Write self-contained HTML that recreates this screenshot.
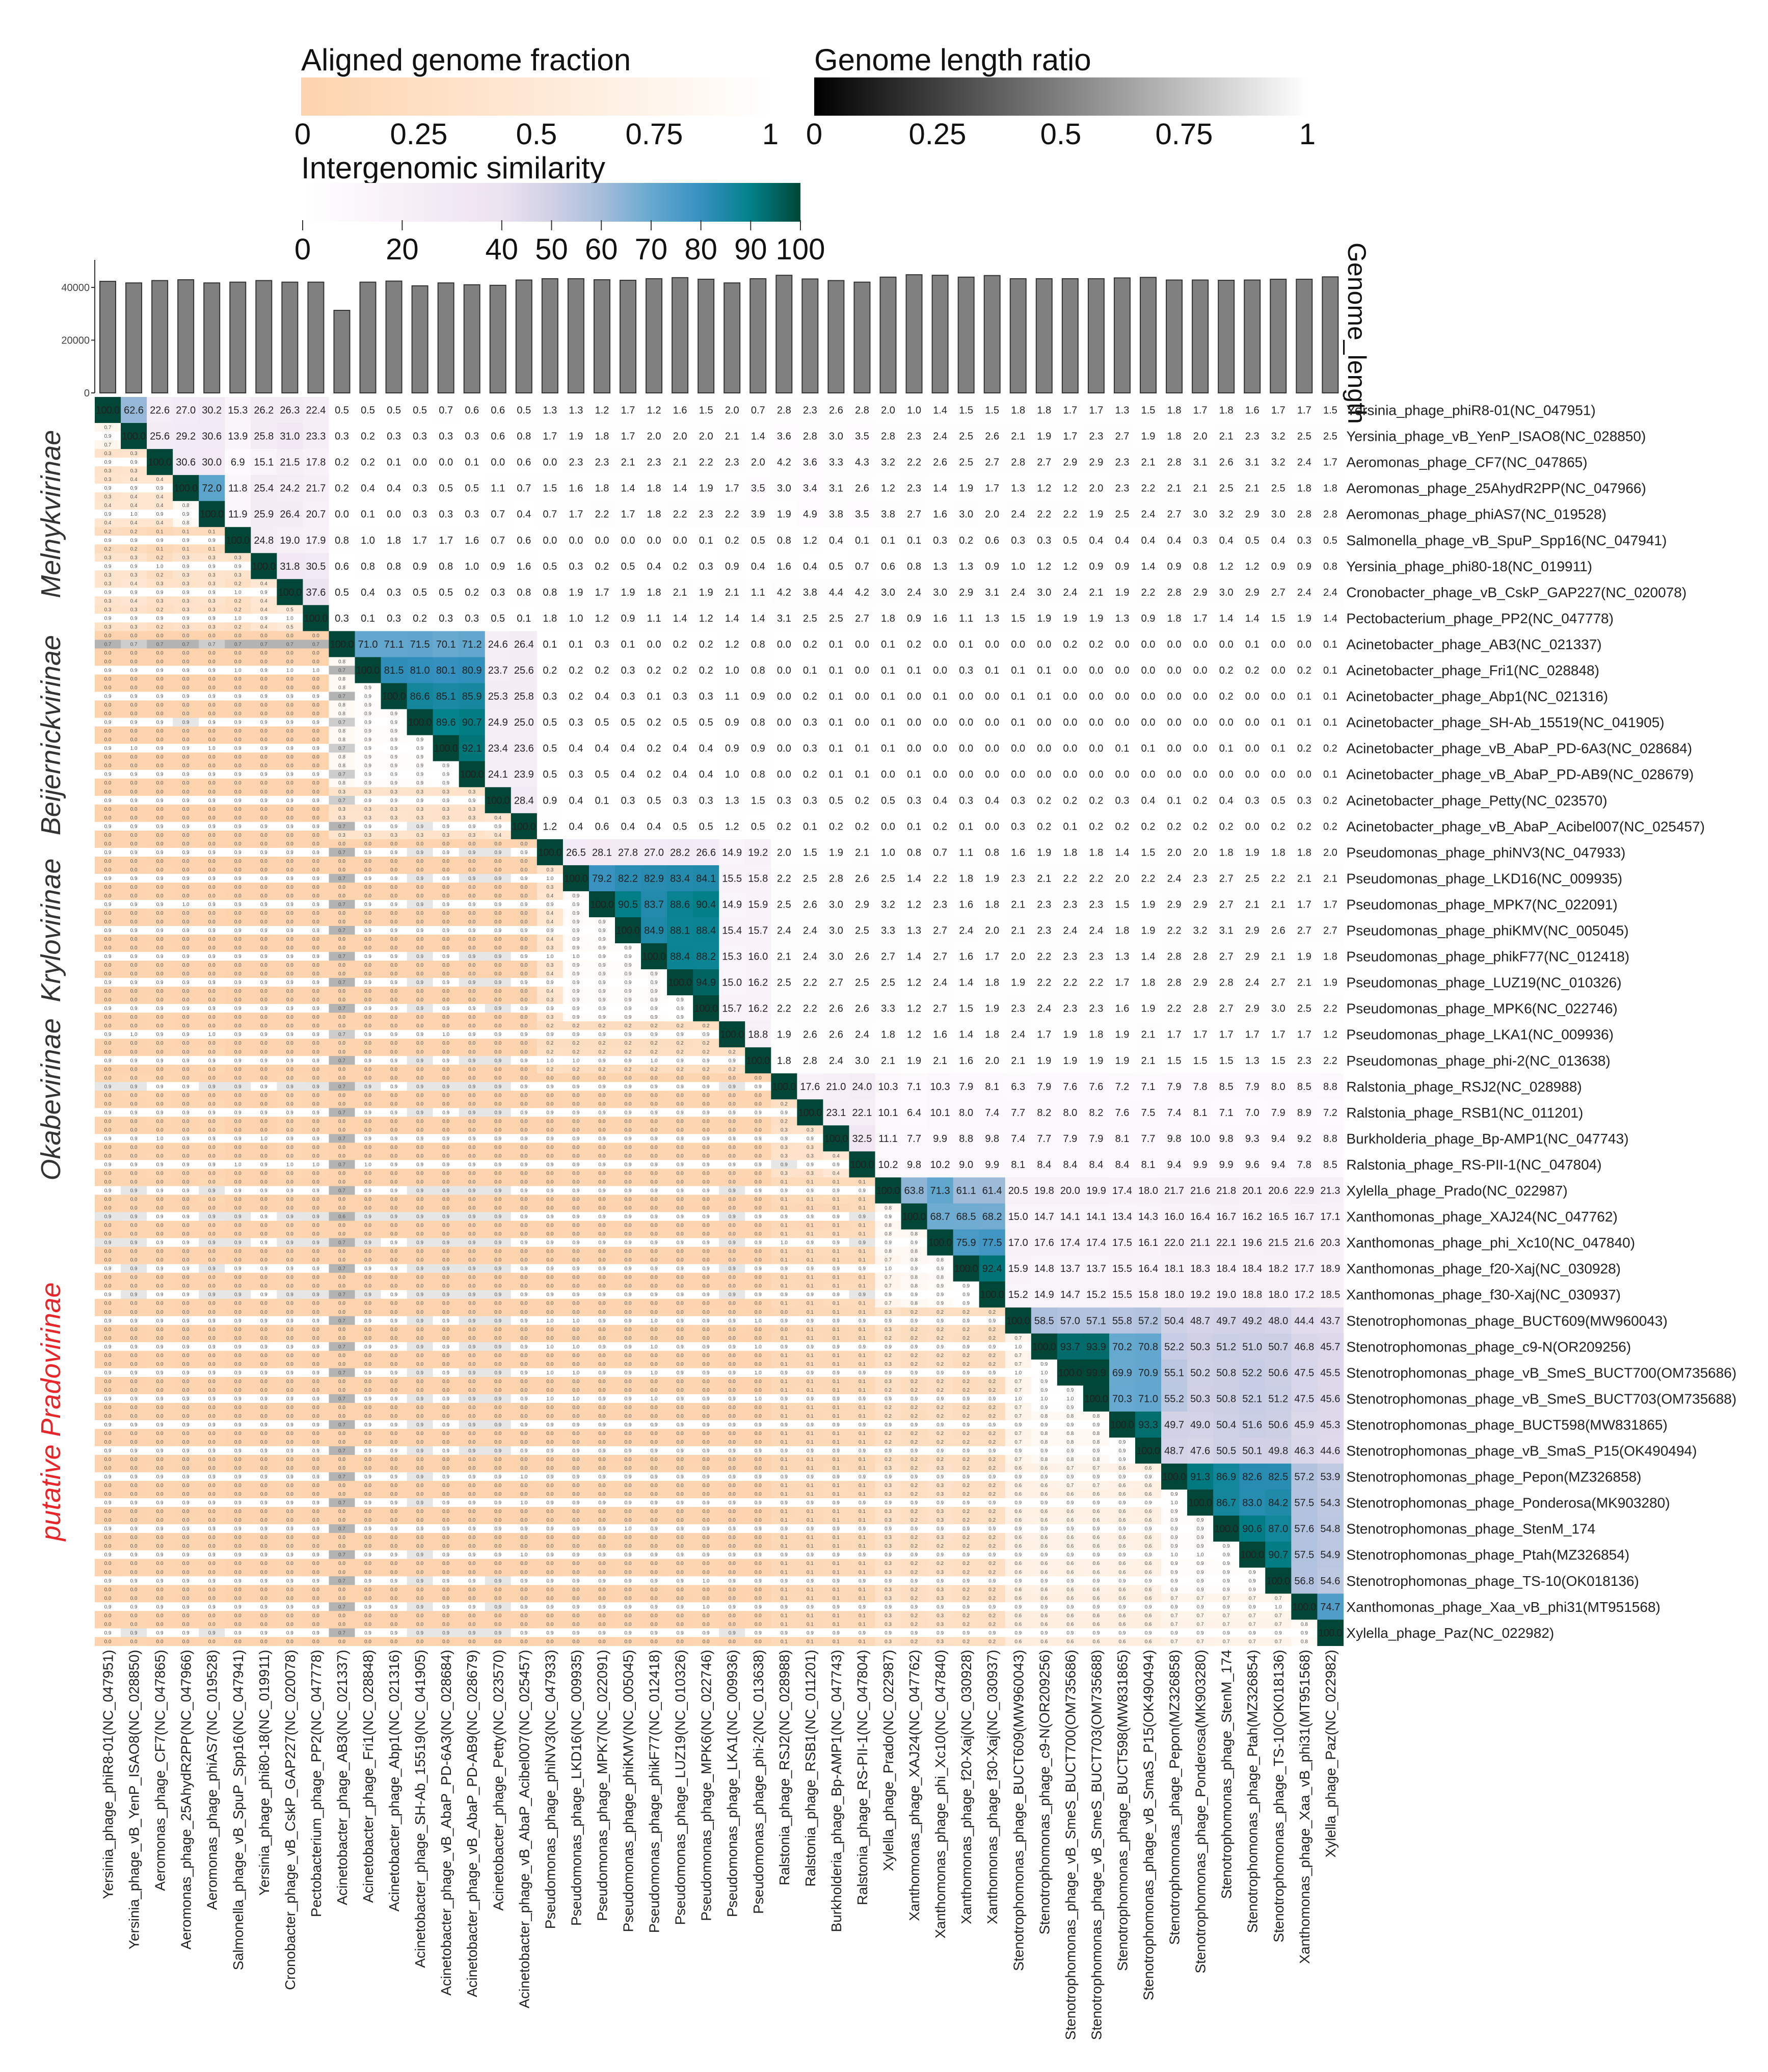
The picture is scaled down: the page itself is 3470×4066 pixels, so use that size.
<!DOCTYPE html>
<html><head><meta charset="utf-8"><title>Phage intergenomic similarity heatmap</title>
<style>
html,body{margin:0;padding:0;background:#fff;}
svg{display:block;font-family:"Liberation Sans",Arial,sans-serif;}
</style></head>
<body>
<svg id="chart" width="3470" height="4066" viewBox="0 0 3470 4066" xmlns="http://www.w3.org/2000/svg">
<defs>
<linearGradient id="gAF" x1="0" x2="1" y1="0" y2="0"><stop offset="0" stop-color="#fdd3ad"/><stop offset="1" stop-color="#ffffff"/></linearGradient>
<linearGradient id="gGL" x1="0" x2="1" y1="0" y2="0"><stop offset="0" stop-color="#000"/><stop offset="1" stop-color="#fff"/></linearGradient>
<linearGradient id="gIS" x1="0" x2="1" y1="0" y2="0">
<stop offset="0" stop-color="#ffffff"/><stop offset="0.2" stop-color="#f7f0f7"/><stop offset="0.4" stop-color="#ece2f0"/><stop offset="0.5" stop-color="#d0d1e6"/><stop offset="0.6" stop-color="#a6bddb"/><stop offset="0.7" stop-color="#67a9cf"/><stop offset="0.8" stop-color="#3690c0"/><stop offset="0.9" stop-color="#02818a"/><stop offset="1" stop-color="#014636"/></linearGradient>
</defs>
<g>
<text x="591" y="138" font-size="60" fill="#111">Aligned genome fraction</text>
<rect x="591" y="152" width="924" height="75" fill="url(#gAF)"/>
<g font-size="58" fill="#111" text-anchor="middle">
<text x="594" y="283">0</text><text x="822" y="283">0.25</text><text x="1053" y="283">0.5</text><text x="1284" y="283">0.75</text><text x="1512" y="283">1</text></g>
</g>
<g>
<text x="1598" y="138" font-size="60" fill="#111">Genome length ratio</text>
<rect x="1598" y="152" width="968" height="75" fill="url(#gGL)"/>
<g font-size="58" fill="#111" text-anchor="middle">
<text x="1598" y="283">0</text><text x="1840" y="283">0.25</text><text x="2082" y="283">0.5</text><text x="2324" y="283">0.75</text><text x="2566" y="283">1</text></g>
</g>
<g>
<text x="591" y="350" font-size="60" fill="#111">Intergenomic similarity</text>
<rect x="594" y="359" width="977" height="76" fill="url(#gIS)"/>
<g id="isTicks" font-size="58" fill="#111" text-anchor="middle"></g>
</g>
<g id="bars"></g>
<text x="0" y="0" font-size="50" fill="#111" transform="translate(2646,476) rotate(90)">Genome_length</text>
<g id="heat"></g>
<g id="rowLabels" font-size="28" fill="#222"></g>
<g id="colLabels" font-size="28" fill="#222"></g>
<g id="groups" font-size="54" font-style="italic" text-anchor="middle"></g>
</svg>
<script>
const phages = ["Yersinia_phage_phiR8-01(NC_047951)","Yersinia_phage_vB_YenP_ISAO8(NC_028850)","Aeromonas_phage_CF7(NC_047865)","Aeromonas_phage_25AhydR2PP(NC_047966)","Aeromonas_phage_phiAS7(NC_019528)","Salmonella_phage_vB_SpuP_Spp16(NC_047941)","Yersinia_phage_phi80-18(NC_019911)","Cronobacter_phage_vB_CskP_GAP227(NC_020078)","Pectobacterium_phage_PP2(NC_047778)","Acinetobacter_phage_AB3(NC_021337)","Acinetobacter_phage_Fri1(NC_028848)","Acinetobacter_phage_Abp1(NC_021316)","Acinetobacter_phage_SH-Ab_15519(NC_041905)","Acinetobacter_phage_vB_AbaP_PD-6A3(NC_028684)","Acinetobacter_phage_vB_AbaP_PD-AB9(NC_028679)","Acinetobacter_phage_Petty(NC_023570)","Acinetobacter_phage_vB_AbaP_Acibel007(NC_025457)","Pseudomonas_phage_phiNV3(NC_047933)","Pseudomonas_phage_LKD16(NC_009935)","Pseudomonas_phage_MPK7(NC_022091)","Pseudomonas_phage_phiKMV(NC_005045)","Pseudomonas_phage_phikF77(NC_012418)","Pseudomonas_phage_LUZ19(NC_010326)","Pseudomonas_phage_MPK6(NC_022746)","Pseudomonas_phage_LKA1(NC_009936)","Pseudomonas_phage_phi-2(NC_013638)","Ralstonia_phage_RSJ2(NC_028988)","Ralstonia_phage_RSB1(NC_011201)","Burkholderia_phage_Bp-AMP1(NC_047743)","Ralstonia_phage_RS-PII-1(NC_047804)","Xylella_phage_Prado(NC_022987)","Xanthomonas_phage_XAJ24(NC_047762)","Xanthomonas_phage_phi_Xc10(NC_047840)","Xanthomonas_phage_f20-Xaj(NC_030928)","Xanthomonas_phage_f30-Xaj(NC_030937)","Stenotrophomonas_phage_BUCT609(MW960043)","Stenotrophomonas_phage_c9-N(OR209256)","Stenotrophomonas_phage_vB_SmeS_BUCT700(OM735686)","Stenotrophomonas_phage_vB_SmeS_BUCT703(OM735688)","Stenotrophomonas_phage_BUCT598(MW831865)","Stenotrophomonas_phage_vB_SmaS_P15(OK490494)","Stenotrophomonas_phage_Pepon(MZ326858)","Stenotrophomonas_phage_Ponderosa(MK903280)","Stenotrophomonas_phage_StenM_174","Stenotrophomonas_phage_Ptah(MZ326854)","Stenotrophomonas_phage_TS-10(OK018136)","Xanthomonas_phage_Xaa_vB_phi31(MT951568)","Xylella_phage_Paz(NC_022982)"];
const genomeLength = [42300,41700,42600,42900,41700,42000,42600,42000,42000,31300,42000,42400,40600,41700,41000,40800,42800,43300,43300,42900,42700,43300,43700,43100,41700,43300,44600,43200,42600,42000,43900,44800,44600,43900,44500,43300,43300,43300,43300,43600,43800,42800,42800,42700,42800,43100,43100,44000];
const lengthTicks = [0,20000,40000];
const simTicks = [0,20,40,50,60,70,80,90,100];
// upper triangle intergenomic similarity: row i lists columns i+1..47
const sim0=[62.6,22.6,27.0,30.2,15.3,26.2,26.3,22.4,0.5,0.5,0.5,0.5,0.7,0.6,0.6,0.5,1.3,1.3,1.2,1.7,1.2,1.6,1.5,2.0,0.7,2.8,2.3,2.6,2.8,2.0,1.0,1.4,1.5,1.5,1.8,1.8,1.7,1.7,1.3,1.5,1.8,1.7,1.8,1.6,1.7,1.7,1.5];
const sim1=[25.6,29.2,30.6,13.9,25.8,31.0,23.3,0.3,0.2,0.3,0.3,0.3,0.3,0.6,0.8,1.7,1.9,1.8,1.7,2.0,2.0,2.0,2.1,1.4,3.6,2.8,3.0,3.5,2.8,2.3,2.4,2.5,2.6,2.1,1.9,1.7,2.3,2.7,1.9,1.8,2.0,2.1,2.3,3.2,2.5,2.5];
const sim2=[30.6,30.0,6.9,15.1,21.5,17.8,0.2,0.2,0.1,0.0,0.0,0.1,0.0,0.6,0.0,2.3,2.3,2.1,2.3,2.1,2.2,2.3,2.0,4.2,3.6,3.3,4.3,3.2,2.2,2.6,2.5,2.7,2.8,2.7,2.9,2.9,2.3,2.1,2.8,3.1,2.6,3.1,3.2,2.4,1.7];
const sim3=[72.0,11.8,25.4,24.2,21.7,0.2,0.4,0.4,0.3,0.5,0.5,1.1,0.7,1.5,1.6,1.8,1.4,1.8,1.4,1.9,1.7,3.5,3.0,3.4,3.1,2.6,1.2,2.3,1.4,1.9,1.7,1.3,1.2,1.2,2.0,2.3,2.2,2.1,2.1,2.5,2.1,2.5,1.8,1.8];
const sim4=[11.9,25.9,26.4,20.7,0.0,0.1,0.0,0.3,0.3,0.3,0.7,0.4,0.7,1.7,2.2,1.7,1.8,2.2,2.3,2.2,3.9,1.9,4.9,3.8,3.5,3.8,2.7,1.6,3.0,2.0,2.4,2.2,2.2,1.9,2.5,2.4,2.7,3.0,3.2,2.9,3.0,2.8,2.8];
const sim5=[24.8,19.0,17.9,0.8,1.0,1.8,1.7,1.7,1.6,0.7,0.6,0.0,0.0,0.0,0.0,0.0,0.0,0.1,0.2,0.5,0.8,1.2,0.4,0.1,0.1,0.1,0.3,0.2,0.6,0.3,0.3,0.5,0.4,0.4,0.4,0.4,0.3,0.4,0.5,0.4,0.3,0.5];
const sim6=[31.8,30.5,0.6,0.8,0.8,0.9,0.8,1.0,0.9,1.6,0.5,0.3,0.2,0.5,0.4,0.2,0.3,0.9,0.4,1.6,0.4,0.5,0.7,0.6,0.8,1.3,1.3,0.9,1.0,1.2,1.2,0.9,0.9,1.4,0.9,0.8,1.2,1.2,0.9,0.9,0.8];
const sim7=[37.6,0.5,0.4,0.3,0.5,0.5,0.2,0.3,0.8,0.8,1.9,1.7,1.9,1.8,2.1,1.9,2.1,1.1,4.2,3.8,4.4,4.2,3.0,2.4,3.0,2.9,3.1,2.4,3.0,2.4,2.1,1.9,2.2,2.8,2.9,3.0,2.9,2.7,2.4,2.4];
const sim8=[0.3,0.1,0.3,0.2,0.3,0.3,0.5,0.1,1.8,1.0,1.2,0.9,1.1,1.4,1.2,1.4,1.4,3.1,2.5,2.5,2.7,1.8,0.9,1.6,1.1,1.3,1.5,1.9,1.9,1.9,1.3,0.9,1.8,1.7,1.4,1.4,1.5,1.9,1.4];
const sim9=[71.0,71.1,71.5,70.1,71.2,24.6,26.4,0.1,0.1,0.3,0.1,0.0,0.2,0.2,1.2,0.8,0.0,0.2,0.1,0.0,0.1,0.2,0.0,0.1,0.0,0.0,0.0,0.2,0.2,0.0,0.0,0.0,0.0,0.0,0.1,0.0,0.0,0.1];
const sim10=[81.5,81.0,80.1,80.9,23.7,25.6,0.2,0.2,0.2,0.3,0.2,0.2,0.2,1.0,0.8,0.0,0.1,0.1,0.0,0.1,0.1,0.0,0.3,0.1,0.1,0.1,0.0,0.0,0.0,0.0,0.0,0.0,0.2,0.2,0.0,0.2,0.1];
const sim11=[86.6,85.1,85.9,25.3,25.8,0.3,0.2,0.4,0.3,0.1,0.3,0.3,1.1,0.9,0.0,0.2,0.1,0.0,0.1,0.0,0.1,0.0,0.0,0.1,0.1,0.0,0.0,0.0,0.0,0.0,0.0,0.2,0.0,0.0,0.1,0.1];
const sim12=[89.6,90.7,24.9,25.0,0.5,0.3,0.5,0.5,0.2,0.5,0.5,0.9,0.8,0.0,0.3,0.1,0.0,0.1,0.0,0.0,0.0,0.0,0.1,0.0,0.0,0.0,0.0,0.0,0.0,0.0,0.0,0.0,0.1,0.1,0.1];
const sim13=[92.1,23.4,23.6,0.5,0.4,0.4,0.4,0.2,0.4,0.4,0.9,0.9,0.0,0.3,0.1,0.1,0.1,0.0,0.0,0.0,0.0,0.0,0.0,0.0,0.0,0.1,0.1,0.0,0.0,0.1,0.0,0.1,0.2,0.2];
const sim14=[24.1,23.9,0.5,0.3,0.5,0.4,0.2,0.4,0.4,1.0,0.8,0.0,0.2,0.1,0.1,0.0,0.1,0.0,0.0,0.0,0.0,0.0,0.0,0.0,0.0,0.0,0.0,0.0,0.0,0.0,0.0,0.0,0.1];
const sim15=[28.4,0.9,0.4,0.1,0.3,0.5,0.3,0.3,1.3,1.5,0.3,0.3,0.5,0.2,0.5,0.3,0.4,0.3,0.4,0.3,0.2,0.2,0.2,0.3,0.4,0.1,0.2,0.4,0.3,0.5,0.3,0.2];
const sim16=[1.2,0.4,0.6,0.4,0.4,0.5,0.5,1.2,0.5,0.2,0.1,0.2,0.2,0.0,0.1,0.2,0.1,0.0,0.3,0.2,0.1,0.2,0.2,0.2,0.2,0.2,0.2,0.0,0.2,0.2,0.2];
const sim17=[26.5,28.1,27.8,27.0,28.2,26.6,14.9,19.2,2.0,1.5,1.9,2.1,1.0,0.8,0.7,1.1,0.8,1.6,1.9,1.8,1.8,1.4,1.5,2.0,2.0,1.8,1.9,1.8,1.8,2.0];
const sim18=[79.2,82.2,82.9,83.4,84.1,15.5,15.8,2.2,2.5,2.8,2.6,2.5,1.4,2.2,1.8,1.9,2.3,2.1,2.2,2.2,2.0,2.2,2.4,2.3,2.7,2.5,2.2,2.1,2.1];
const sim19=[90.5,83.7,88.6,90.4,14.9,15.9,2.5,2.6,3.0,2.9,3.2,1.2,2.3,1.6,1.8,2.1,2.3,2.3,2.3,1.5,1.9,2.9,2.9,2.7,2.1,2.1,1.7,1.7];
const sim20=[84.9,88.1,88.4,15.4,15.7,2.4,2.4,3.0,2.5,3.3,1.3,2.7,2.4,2.0,2.1,2.3,2.4,2.4,1.8,1.9,2.2,3.2,3.1,2.9,2.6,2.7,2.7];
const sim21=[88.4,88.2,15.3,16.0,2.1,2.4,3.0,2.6,2.7,1.4,2.7,1.6,1.7,2.0,2.2,2.3,2.3,1.3,1.4,2.8,2.8,2.7,2.9,2.1,1.9,1.8];
const sim22=[94.9,15.0,16.2,2.5,2.2,2.7,2.5,2.5,1.2,2.4,1.4,1.8,1.9,2.2,2.2,2.2,1.7,1.8,2.8,2.9,2.8,2.4,2.7,2.1,1.9];
const sim23=[15.7,16.2,2.2,2.2,2.6,2.6,3.3,1.2,2.7,1.5,1.9,2.3,2.4,2.3,2.3,1.6,1.9,2.2,2.8,2.7,2.9,3.0,2.5,2.2];
const sim24=[18.8,1.9,2.6,2.6,2.4,1.8,1.2,1.6,1.4,1.8,2.4,1.7,1.9,1.8,1.9,2.1,1.7,1.7,1.7,1.7,1.7,1.7,1.2];
const sim25=[1.8,2.8,2.4,3.0,2.1,1.9,2.1,1.6,2.0,2.1,1.9,1.9,1.9,1.9,2.1,1.5,1.5,1.5,1.3,1.5,2.3,2.2];
const sim26=[17.6,21.0,24.0,10.3,7.1,10.3,7.9,8.1,6.3,7.9,7.6,7.6,7.2,7.1,7.9,7.8,8.5,7.9,8.0,8.5,8.8];
const sim27=[23.1,22.1,10.1,6.4,10.1,8.0,7.4,7.7,8.2,8.0,8.2,7.6,7.5,7.4,8.1,7.1,7.0,7.9,8.9,7.2];
const sim28=[32.5,11.1,7.7,9.9,8.8,9.8,7.4,7.7,7.9,7.9,8.1,7.7,9.8,10.0,9.8,9.3,9.4,9.2,8.8];
const sim29=[10.2,9.8,10.2,9.0,9.9,8.1,8.4,8.4,8.4,8.4,8.1,9.4,9.9,9.9,9.6,9.4,7.8,8.5];
const sim30=[63.8,71.3,61.1,61.4,20.5,19.8,20.0,19.9,17.4,18.0,21.7,21.6,21.8,20.1,20.6,22.9,21.3];
const sim31=[68.7,68.5,68.2,15.0,14.7,14.1,14.1,13.4,14.3,16.0,16.4,16.7,16.2,16.5,16.7,17.1];
const sim32=[75.9,77.5,17.0,17.6,17.4,17.4,17.5,16.1,22.0,21.1,22.1,19.6,21.5,21.6,20.3];
const sim33=[92.4,15.9,14.8,13.7,13.7,15.5,16.4,18.1,18.3,18.4,18.4,18.2,17.7,18.9];
const sim34=[15.2,14.9,14.7,15.2,15.5,15.8,18.0,19.2,19.0,18.8,18.0,17.2,18.5];
const sim35=[58.5,57.0,57.1,55.8,57.2,50.4,48.7,49.7,49.2,48.0,44.4,43.7];
const sim36=[93.7,93.9,70.2,70.8,52.2,50.3,51.2,51.0,50.7,46.8,45.7];
const sim37=[99.9,69.9,70.9,55.1,50.2,50.8,52.2,50.6,47.5,45.5];
const sim38=[70.3,71.0,55.2,50.3,50.8,52.1,51.2,47.5,45.6];
const sim39=[93.3,49.7,49.0,50.4,51.6,50.6,45.9,45.3];
const sim40=[48.7,47.6,50.5,50.1,49.8,46.3,44.6];
const sim41=[91.3,86.9,82.6,82.5,57.2,53.9];
const sim42=[86.7,83.0,84.2,57.5,54.3];
const sim43=[90.6,87.0,57.6,54.8];
const sim44=[90.7,57.5,54.9];
const sim45=[56.8,54.6];
const sim46=[74.7];
const sim47=[];
const groupNames = ["Melnykvirinae","Beijernickvirinae","Krylovirinae","Okabevirinae","putative Pradovirinae"];
const groupFirst = [0,9,17,24,30];
const groupLast = [8,16,23,29,47];

const simRows=[sim0,sim1,sim2,sim3,sim4,sim5,sim6,sim7,sim8,sim9,sim10,sim11,sim12,sim13,sim14,sim15,sim16,sim17,sim18,sim19,sim20,sim21,sim22,sim23,sim24,sim25,sim26,sim27,sim28,sim29,sim30,sim31,sim32,sim33,sim34,sim35,sim36,sim37,sim38,sim39,sim40,sim41,sim42,sim43,sim44,sim45,sim46,sim47];
const NS="http://www.w3.org/2000/svg";
const N=phages.length, X0=186, Y0=779, P=51.05;
const xPos=i=>X0+i*P, yPos=i=>Y0+i*P;
const barBase=771, barScale=207/40000;
const yLen=v=>barBase-v*barScale;
const xSim=v=>594+v*9.77;
function mk(tag,attrs,parent,txt){const e=document.createElementNS(NS,tag);for(const k in attrs)e.setAttribute(k,attrs[k]);if(txt!==undefined)e.textContent=txt;parent.appendChild(e);return e;}
function hex(h){return [parseInt(h.substr(1,2),16),parseInt(h.substr(3,2),16),parseInt(h.substr(5,2),16)];}
function interp(stops,v){for(let k=1;k<stops.length;k++){if(v<=stops[k][0]){const a=stops[k-1],b=stops[k];const t=(v-a[0])/(b[0]-a[0]);const ca=hex(a[1]),cb=hex(b[1]);return 'rgb('+ca.map((c,m)=>Math.round(c+(cb[m]-c)*t)).join(',')+')';}}return stops[stops.length-1][1];}
const simStops=[[0,"#ffffff"],[20,"#f7f0f7"],[40,"#ece2f0"],[50,"#d0d1e6"],[60,"#a6bddb"],[70,"#67a9cf"],[80,"#3690c0"],[90,"#02818a"],[100,"#014636"]];
const afStops=[[0,"#fdd3ad"],[1,"#ffffff"]];
const grStops=[[0,"#000000"],[1,"#ffffff"]];
function simAt(i,j){if(i===j)return 100;const a=Math.min(i,j),b=Math.max(i,j);const r=simRows[a];const v=r[b-a-1];return v===undefined?r[r.length-1]:v;}

// legend ticks
const it=document.getElementById('isTicks');
simTicks.forEach(t=>{
  const l=mk('line',{x1:xSim(t),x2:xSim(t),y1:432,y2:452,stroke:'#333','stroke-width':2},it);
  
  
  const tx=mk('text',{x:xSim(t),y:509},it,String(t));
  
  
});

// bars
const bg=document.getElementById('bars');
const ax=mk('line',{x1:X0,x2:X0,y1:510,y2:barBase,stroke:'#333','stroke-width':2},bg);


lengthTicks.forEach(t=>{
  const tl=mk('line',{x1:X0-7,x2:X0,y1:yLen(t),y2:yLen(t),stroke:'#333','stroke-width':2},bg);
  
  
  const tx=mk('text',{x:X0-10,y:yLen(t)+7,'font-size':20,'text-anchor':'end',fill:'#444'},bg,String(t));
  
  
});
genomeLength.forEach((v,i)=>{
  const r=mk('rect',{x:xPos(i)+10,y:yLen(v),width:31,height:barBase-yLen(v),fill:'#808080',stroke:'#333','stroke-width':2},bg);
  
  
});

// heatmap
const hg=document.getElementById('heat');
for(let i=0;i<N;i++){
  for(let j=0;j<N;j++){
    const x=xPos(j), y=yPos(i), s=simAt(i,j);
    if(j>=i){
      const r=mk('rect',{x:x,y:y,width:P+0.6,height:P+0.6,fill:interp(simStops,s)},hg);
      
      
      const t=mk('text',{x:x+P/2,y:y+P/2+7,'font-size':20,'text-anchor':'middle',fill:'#222','textLength':(s>=100?P-4:null)},hg,s.toFixed(1));
      if(s<100)t.removeAttribute('textLength');
      
      
    } else {
      const af=Math.max(0,Math.min(1,1-Math.pow(1-s/100,1.6)));
      const ratio=Math.min(genomeLength[i],genomeLength[j])/Math.max(genomeLength[i],genomeLength[j]);
      const h=P/3;
      const vals=[af,ratio,af];
      for(let k=0;k<3;k++){
        const r=mk('rect',{x:x,y:y+k*h,width:P+0.6,height:h+0.6,fill:k===1?interp(grStops,Math.round(ratio*10)/10):interp(afStops,af)},hg);
        
        
        const t=mk('text',{x:x+P/2,y:y+k*h+h/2+3.5,'font-size':10,'text-anchor':'middle',fill:'#555'},hg,(Math.floor(vals[k]*10)/10).toFixed(1));
        
        
      }
    }
  }
}
// labels
const rl=document.getElementById('rowLabels'), cl=document.getElementById('colLabels');
phages.forEach((n,i)=>{
  const t=mk('text',{x:X0+N*P+6,y:yPos(i)+P/2+10},rl,n);
  
  
  const c=mk('text',{x:0,y:0,'text-anchor':'end',transform:'translate('+(xPos(i)+P/2+10)+','+(Y0+N*P+8)+') rotate(-90)'},cl,n);
  
  
});
const gg=document.getElementById('groups');
groupNames.forEach((g,k)=>{
  const cy=(yPos(groupFirst[k])+yPos(groupLast[k]+1))/2;
  const t=mk('text',{x:0,y:0,fill:k===4?'#e8262a':'#333',transform:'translate(118,'+cy+') rotate(-90)'},gg,g);
  
  
});
</script>
</body></html>
